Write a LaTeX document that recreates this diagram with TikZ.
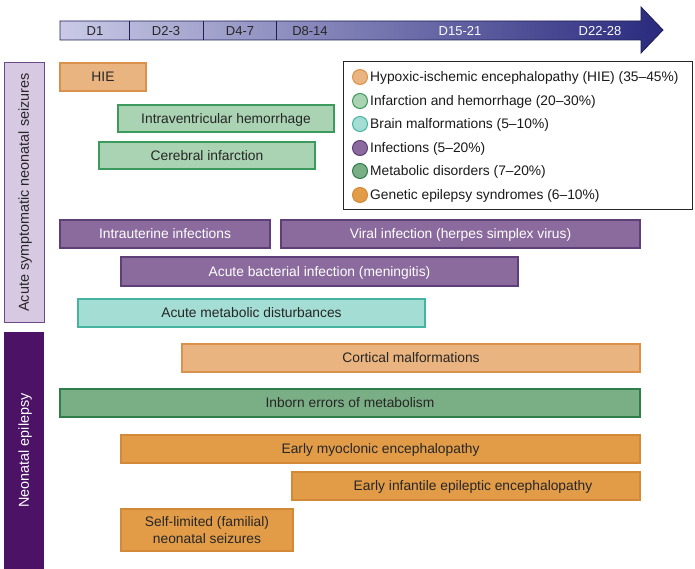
\documentclass[tikz,border=0pt]{standalone}
\usepackage{fontspec}
\setmainfont{Liberation Sans}
\definecolor{hieF}{HTML}{E9B47F}\definecolor{hieD}{HTML}{DA914C}
\definecolor{infF}{HTML}{A9D3B2}\definecolor{infD}{HTML}{3C9A5C}
\definecolor{malF}{HTML}{A3DDD3}\definecolor{malD}{HTML}{45B5A2}
\definecolor{infecF}{HTML}{8B6B9E}\definecolor{infecD}{HTML}{5E3F78}
\definecolor{metF}{HTML}{7AAE84}\definecolor{metD}{HTML}{2F7D4A}
\definecolor{genF}{HTML}{E29C48}\definecolor{genD}{HTML}{D38A38}
\definecolor{acuteF}{HTML}{D7C9E2}\definecolor{acuteD}{HTML}{6B4A8A}
\definecolor{epiF}{HTML}{4B1266}
\definecolor{axL}{HTML}{CACAE7}\definecolor{axR}{HTML}{2A2A7E}\definecolor{axD}{HTML}{1E1E55}
\begin{document}
\begin{tikzpicture}[x=1pt,y=-1pt,
  every node/.style={font=\fontsize{13.8}{16.5}\selectfont, inner sep=0pt},
  midline/.style={text height=12pt, text depth=2.1pt},
  cbar/.style={draw, line width=1.1pt, text=black!85, minimum height=28, align=center},
  onebar/.style={cbar, midline},
  hiebar/.style={fill=hieF, draw=hieD},
  infbar/.style={fill=infF, draw=infD},
  malbar/.style={fill=malF, draw=malD},
  infecbar/.style={fill=infecF, draw=infecD, text=white},
  metbar/.style={fill=metF, draw=metD},
  genbar/.style={fill=genF, draw=genD},
  dot/.style={circle, minimum size=15, line width=1pt},
  legtext/.style={midline, anchor=west, text=black!90},
  daylabel/.style={font=\fontsize{13}{15.5}\selectfont, text height=11.5pt, text depth=2.2pt, text=black!85},
  sidebox/.style={rotate=90, minimum height=40, line width=1pt, midline,
    font=\fontsize{14.4}{17}\selectfont}
]
\useasboundingbox (0,0) rectangle (695,569);

% timeline arrow
\path[left color=axL, right color=axR, draw=axD, line width=0.8pt]
  (60,21) -- (641,21) -- (641,7) -- (663,30) -- (641,53) -- (641,40) -- (60,40) -- cycle;
\coordinate (t1) at (129,21); \coordinate (b1) at (129,40);
\coordinate (t2) at (203,21); \coordinate (b2) at (203,40);
\coordinate (t3) at (276,21); \coordinate (b3) at (276,40);
\draw[axD, line width=1pt] (t1) -- (b1) (t2) -- (b2) (t3) -- (b3);
\node[daylabel] (d1) at (95,30.5) {D1};
\node[daylabel] (d2) at (166,30.5) {D2-3};
\node[daylabel] (d3) at (240,30.5) {D4-7};
\node[daylabel] (d4) at (310,30.5) {D8-14};
\node[daylabel, text=white!92!axL] (d5) at (460,30.5) {D15-21};
\node[daylabel, text=white!92!axL] (d6) at (600,30.5) {D22-28};

% side labels
\node[sidebox, fill=acuteF, draw=acuteD, minimum width=259, text=black!85] (acute) at (24,192.5) {Acute symptomatic neonatal seizures};
\node[sidebox, fill=epiF, minimum width=237, text=white] (epi) at (24,450.5) {Neonatal epilepsy};

% acute symptomatic causes
\node[onebar, hiebar, minimum width=86] (hie) at (103,77) {HIE};
\node[onebar, infbar, minimum width=216, minimum height=27] (ivh) at (226,118.5) {Intraventricular hemorrhage};
\node[onebar, infbar, minimum width=216, minimum height=27] (ci) at (207,155.5) {Cerebral infarction};
\node[onebar, infecbar, minimum width=210] (iu) at (165,234) {Intrauterine infections};
\node[onebar, infecbar, minimum width=359] (vi) at (460.5,234) {Viral infection (herpes simplex virus)};
\node[onebar, infecbar, minimum width=397, minimum height=29] (abi) at (319.5,271.5) {Acute bacterial infection (meningitis)};
\node[onebar, malbar, minimum width=347] (amd) at (251.5,313) {Acute metabolic disturbances};

% neonatal epilepsy causes
\node[onebar, hiebar, minimum width=458] (cm) at (411,358) {Cortical malformations};
\node[onebar, metbar, minimum width=580] (iem) at (350,403) {Inborn errors of metabolism};
\node[onebar, genbar, minimum width=519] (eme) at (380.5,449) {Early myoclonic encephalopathy};
\node[onebar, genbar, minimum width=348] (eiee) at (466,486) {\hspace*{14pt}Early infantile epileptic encephalopathy};
\node[cbar, genbar, minimum width=172, minimum height=42] (sl) at (207,530) {Self-limited (familial)\\neonatal seizures};

% legend
\node[draw=black!85, line width=1pt, minimum width=349, minimum height=148] (legend) at (517.5,136) {};
\node[dot, fill=hieF, draw=hieD] (l1) at (360,77) {};
\node[legtext] (lt1) at (370,77) {Hypoxic-ischemic encephalopathy (HIE) (35--45\%)};
\node[dot, fill=infF, draw=infD] (l2) at (360,101) {};
\node[legtext] (lt2) at (370,101) {Infarction and hemorrhage (20--30\%)};
\node[dot, fill=malF, draw=malD] (l3) at (360,124) {};
\node[legtext] (lt3) at (370,124) {Brain malformations (5--10\%)};
\node[dot, fill=infecF, draw=infecD] (l4) at (360,148) {};
\node[legtext] (lt4) at (370,148) {Infections (5--20\%)};
\node[dot, fill=metF, draw=metD] (l5) at (360,171) {};
\node[legtext] (lt5) at (370,171) {Metabolic disorders (7--20\%)};
\node[dot, fill=genF, draw=genD] (l6) at (360,195) {};
\node[legtext] (lt6) at (370,195) {Genetic epilepsy syndromes (6--10\%)};
\end{tikzpicture}
\end{document}
